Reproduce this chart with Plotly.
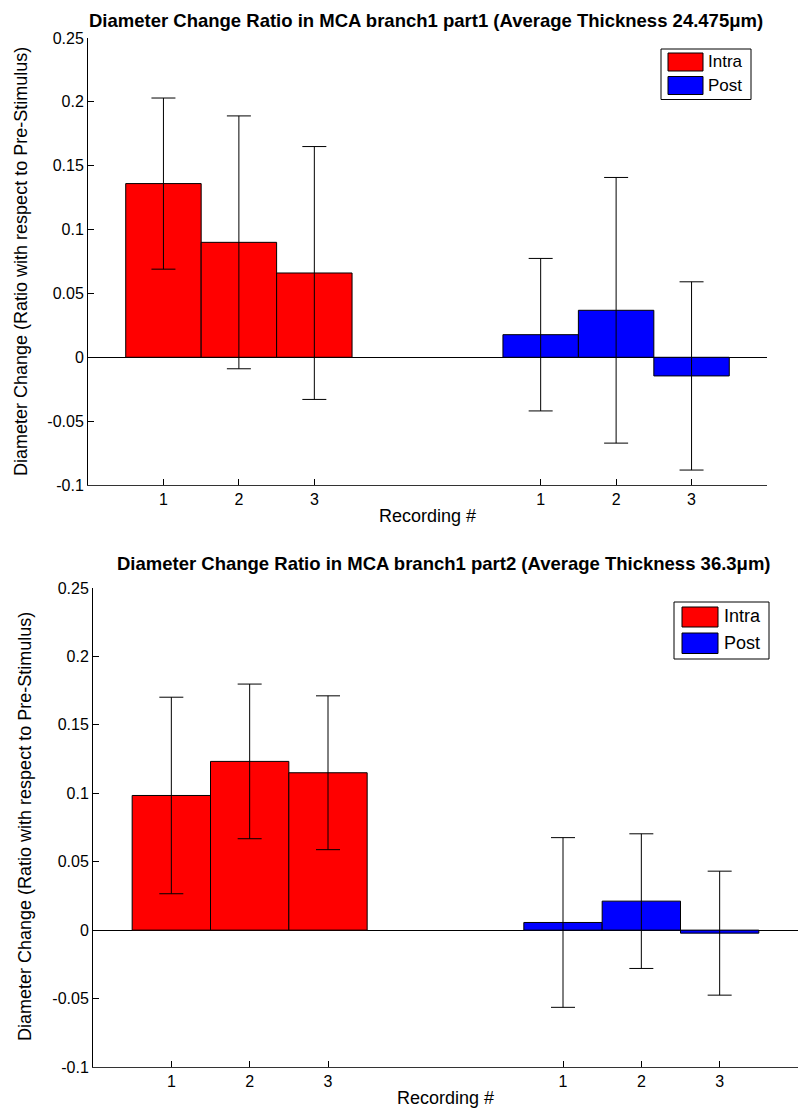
import plotly.graph_objects as go

# ---- data ----
tick_labels = ["1", "2", "3", "1", "2", "3"]
x_intra = [1, 2, 3]
x_post = [6, 7, 8]
series_names = ["Intra", "Post"]
series_colors = ["#ff0000", "#0000ff"]

p1_intra = [0.136, 0.090, 0.066]
p1_intra_err = [0.067, 0.099, 0.099]
p1_post = [0.0177, 0.0368, -0.0146]
p1_post_err = [0.0597, 0.104, 0.0737]

p2_intra = [0.0984, 0.1233, 0.1150]
p2_intra_err = [0.0718, 0.0565, 0.0562]
p2_post = [0.0056, 0.0212, -0.0022]
p2_post_err = [0.0620, 0.0492, 0.0453]

y_ticks = [-0.1, -0.05, 0, 0.05, 0.1, 0.15, 0.2, 0.25]
y_ticktext = ["-0.1", "-0.05", "0", "0.05", "0.1", "0.15", "0.2", "0.25"]

title1 = "Diameter Change Ratio in MCA branch1 part1 (Average Thickness 24.475μm)"
title2 = "Diameter Change Ratio in MCA branch1 part2 (Average Thickness 36.3μm)"
ylab = "Diameter Change (Ratio with respect to Pre-Stimulus)"
xlab = "Recording #"

W, H = 799, 1114
FONT = "Liberation Sans, Arial, Helvetica, sans-serif"

def err(arr):
    return dict(type="data", array=arr, visible=True, color="black", thickness=1, width=12)

fig = go.Figure()
panels = [
    ("x", "y", p1_intra, p1_intra_err, p1_post, p1_post_err),
    ("x2", "y2", p2_intra, p2_intra_err, p2_post, p2_post_err),
]
for xa, ya, vi, ei, vp, ep in panels:
    fig.add_trace(go.Bar(x=x_intra, y=vi, width=1, name=series_names[0], error_y=err(ei),
                         marker=dict(color=series_colors[0], line=dict(color="black", width=1)),
                         xaxis=xa, yaxis=ya, showlegend=False))
    fig.add_trace(go.Bar(x=x_post, y=vp, width=1, name=series_names[1], error_y=err(ep),
                         marker=dict(color=series_colors[1], line=dict(color="black", width=1)),
                         xaxis=xa, yaxis=ya, showlegend=False))

def py(pix):
    return 1 - pix / H

def xaxis(dom, anchor):
    return dict(domain=dom, anchor=anchor, range=[0, 9], tickmode="array",
                tickvals=x_intra + x_post, ticktext=tick_labels, ticks="inside", ticklen=6,
                tickcolor="black", showline=True, linecolor="#333333", linewidth=1,
                showgrid=False, zeroline=False, mirror=False, automargin=False,
                tickfont=dict(family=FONT, size=16, color="black"))

def yaxis(dom, anchor):
    return dict(domain=dom, anchor=anchor, range=[-0.1, 0.25], tickmode="array",
                tickvals=y_ticks, ticktext=y_ticktext,
                ticks="inside", ticklen=6, tickcolor="black", showline=True,
                linecolor="black", linewidth=1, showgrid=False, zeroline=True,
                zerolinecolor="black", zerolinewidth=1, mirror=False, automargin=False,
                tickfont=dict(family=FONT, size=16, color="black"))

top_x = [88 / W, 767 / W]
top_y = [py(485), py(38)]
bot_x = [93 / W, 798 / W]
bot_y = [py(1067), py(588)]

def ann(text, x, y, size, angle=0, xanchor="center"):
    return dict(text=text, x=x / W, y=py(y), xref="paper", yref="paper", textangle=angle,
                showarrow=False, font=dict(family=FONT, size=size, color="black"),
                xanchor=xanchor, yanchor="middle")

annotations = [
    ann("<b>%s</b>" % title1, 426, 21, 18.5),
    ann("<b>%s</b>" % title2, 444, 564, 18.5),
    ann(ylab, 21, 262, 18, -90),
    ann(ylab, 25, 827, 18, -90),
    ann(xlab, 427, 516, 18),
    ann(xlab, 445, 1098, 18),
]

# ---- legend boxes (one per panel) ----
shapes = []
def rect(x0, y0, x1, y1, fill, lw=1):
    shapes.append(dict(type="rect", xref="paper", yref="paper",
                       x0=x0 / W, x1=x1 / W, y0=py(y1), y1=py(y0),
                       fillcolor=fill, line=dict(color="black", width=lw), layer="above"))

legends = [
    # box, swatch x, swatch rows, text x, text rows, font size
    dict(box=(661, 49, 751, 99.5), sx=(668, 703), rows=[(53, 71), (76.5, 94.5)],
         tx=706, ty=[62, 85], fs=17),
    dict(box=(674, 602, 769, 659), sx=(682, 718), rows=[(607, 627), (633, 653.5)],
         tx=722, ty=[616, 643], fs=18),
]
for lg in legends:
    bx0, by0, bx1, by1 = lg["box"]
    rect(bx0, by0, bx1, by1, "white")
    for i in range(2):
        r0, r1 = lg["rows"][i]
        rect(lg["sx"][0], r0, lg["sx"][1], r1, series_colors[i])
        annotations.append(ann(series_names[i], lg["tx"], lg["ty"][i], lg["fs"], xanchor="left"))

fig.update_layout(
    width=W, height=H, margin=dict(l=0, r=0, t=0, b=0, pad=0, autoexpand=False),
    paper_bgcolor="white", plot_bgcolor="white",
    barmode="overlay", showlegend=False,
    xaxis=xaxis(top_x, "y"), yaxis=yaxis(top_y, "x"),
    xaxis2=xaxis(bot_x, "y2"), yaxis2=yaxis(bot_y, "x2"),
    annotations=annotations, shapes=shapes,
    font=dict(family=FONT, color="black"),
)

fig.write_html("out.html", config={"displayModeBar": False},
               post_script="document.body.style.margin='0';document.body.style.overflow='hidden';")
